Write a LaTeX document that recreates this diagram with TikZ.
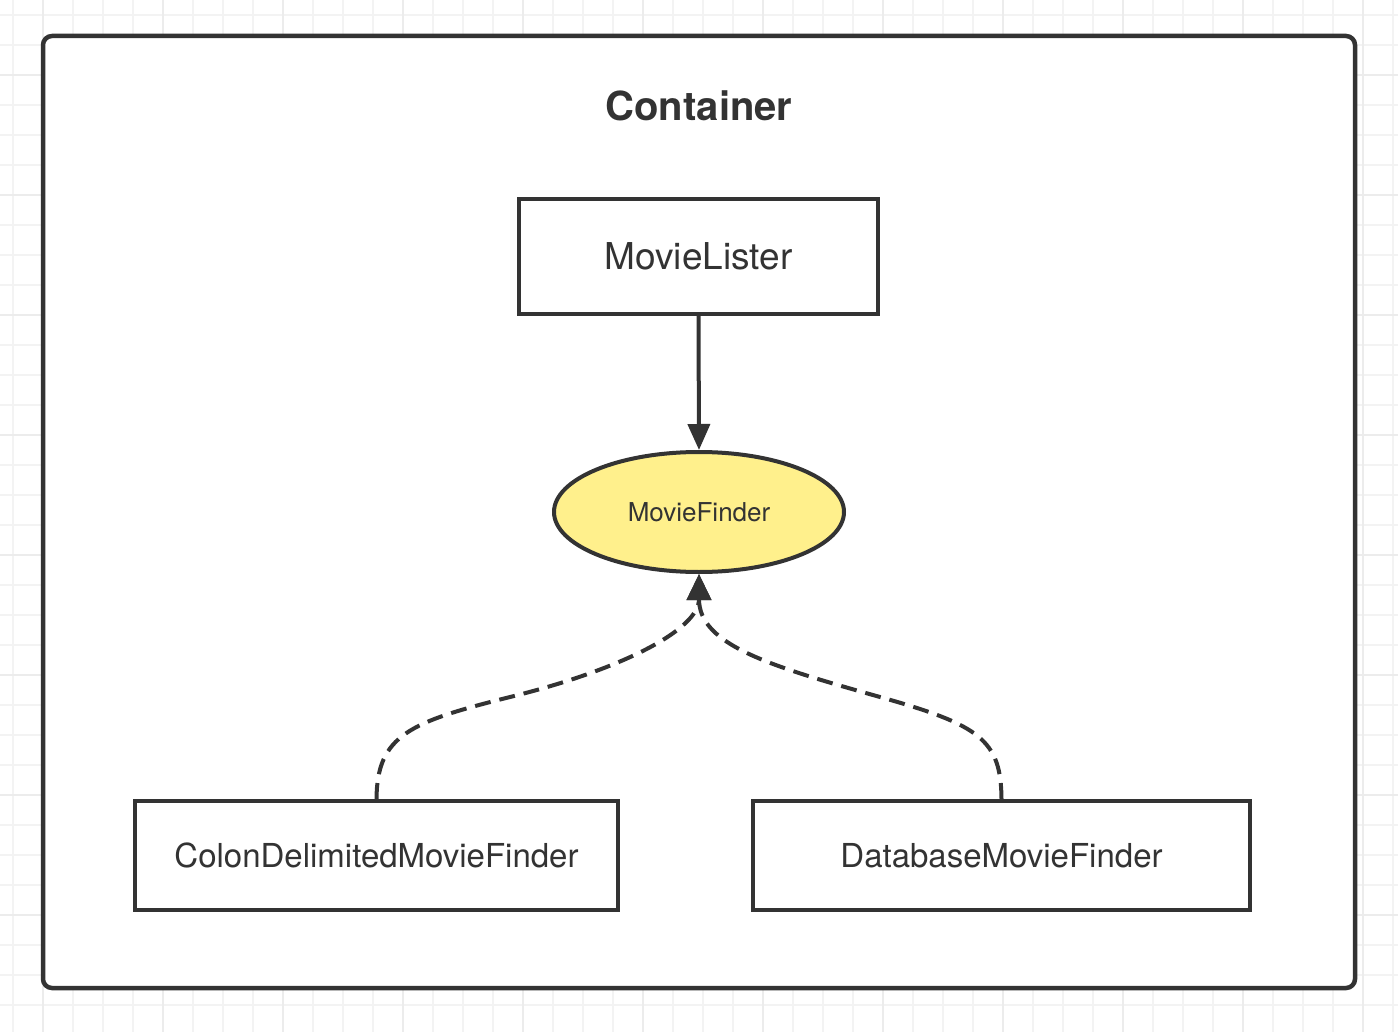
\documentclass[tikz,border=0pt]{standalone}
\usepackage{fontspec}
\setmainfont{TeX Gyre Heros}
\usetikzlibrary{shapes.geometric,arrows.meta}
\definecolor{ink}{HTML}{333333}
\definecolor{gridminor}{HTML}{F3F3F3}
\definecolor{gridmajor}{HTML}{ECECEC}
\definecolor{finderfill}{HTML}{FFF08C}
\tikzset{
  minorline/.style={draw=gridminor, line width=1.5pt},
  majorline/.style={draw=gridmajor, line width=2pt},
  classbox/.style={draw=ink, line width=4pt, fill=white, text=ink, inner sep=0pt},
  ifaceshape/.style={ellipse, draw=ink, line width=4pt, fill=finderfill, text=ink, inner sep=0pt, minimum width=290pt, minimum height=120pt, font=\fontsize{26}{31}\selectfont},
  usesedge/.style={draw=ink, line width=4pt, -{Triangle[length=26pt, width=22pt]}},
  impledge/.style={draw=ink, line width=4pt, dash pattern=on 16pt off 9pt, -{Triangle[length=26pt, width=24pt]}},
}
\begin{document}
\begin{tikzpicture}[x=1pt, y=-1pt]
\useasboundingbox (0,0) rectangle (1398,1032);
\fill[white] (0,0) rectangle (1398,1032);
% grid
\foreach \x in {13,73,...,1393} \draw[minorline] (\x,0) -- (\x,1032);
\foreach \x in {43,103,...,1393} \draw[minorline] (\x,0) -- (\x,1032);
\foreach \y in {15,45,...,1032} \draw[minorline] (0,\y) -- (1398,\y);
\foreach \x in {43,163,...,1393} \draw[majorline] (\x,0) -- (\x,1032);
\foreach \y in {75,195,...,1032} \draw[majorline] (0,\y) -- (1398,\y);
% container
\node[draw=ink, line width=4.5pt, fill=white, rounded corners=9pt, minimum width=1312pt, minimum height=952pt, inner sep=0pt] (container) at (699,512) {};
\node[text=ink, font=\bfseries\fontsize{40}{48}\selectfont] (title) at (699,106) {Container};
% classes
\node[classbox, minimum width=359pt, minimum height=115pt, font=\fontsize{37}{44}\selectfont] (lister) at (698.5,256.5) {MovieLister};
\node[ifaceshape] (finder) at (699,512) {MovieFinder};
\node[classbox, minimum width=483pt, minimum height=109pt, font=\fontsize{33}{40}\selectfont] (colon) at (376.5,855.5) {ColonDelimitedMovieFinder};
\node[classbox, minimum width=497pt, minimum height=109pt, font=\fontsize{33}{40}\selectfont] (db) at (1001.5,855.5) {DatabaseMovieFinder};
% edges
\draw[usesedge] (lister.south) -- (finder.north);
\draw[impledge] (colon.north) .. controls (377,735) and (410,722) .. (510,697) .. controls (620,670) and (699,630) .. (finder.south);
\draw[impledge] (db.north) .. controls (1001,740) and (980,725) .. (880,697) .. controls (770,666) and (699,645) .. (finder.south);
\end{tikzpicture}
\end{document}
